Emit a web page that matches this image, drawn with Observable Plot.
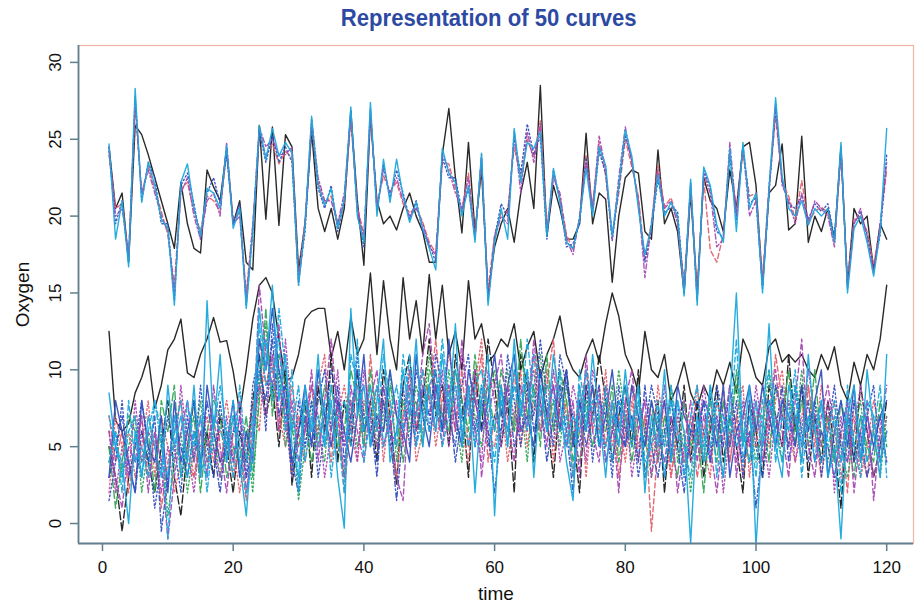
<!DOCTYPE html>
<html>
<head>
<meta charset="utf-8">
<script src="https://cdn.jsdelivr.net/npm/d3@7"></script>
<script src="https://cdn.jsdelivr.net/npm/@observablehq/plot@0.6"></script>
<style>
  html, body { margin: 0; padding: 0; background: #fff; }
  #title { width: 923px; height: 36px; box-sizing: border-box; padding-left: 54px; padding-top: 3px;
    text-align: center; overflow: visible; }
  #title span { display: inline-block; transform: scaleX(0.92); color: #2d49a3;
    font: bold 24px/30px "Liberation Sans", Arial, sans-serif; }
  #chart svg { display: block; font-family: "Liberation Sans", Arial, sans-serif; }
</style>
</head>
<body>
<div id="title"><span>Representation of 50 curves</span></div>
<div id="chart"></div>
<script>
// ---- data ----
const time = d3.range(1, 121);
const xTicks = [0, 20, 40, 60, 80, 100, 120];
const yTicks = [0, 5, 10, 15, 20, 25, 30];

// upper group of curves
const upCyan = [24.7,18.5,21,16.7,28.3,20.9,23.5,22,19.8,19.2, 14.2,22.2,23.4,20.5,18.7,21.8,21.5,20.5,24.6,19.2, 20.5,14,19,25.9,23.7,25.7,23.9,24.8,24.1,15.5, 19.4,26.5,22,20.7,21.8,19.2,21.1,27.1,20,18.3, 27.4,20,23.7,20.9,23.7,21.3,19.6,20.9,19.2,17.9, 16.5,24.4,22.8,22.2,20,22,18.3,24.1,14.2,18.3, 20.5,18.5,25.7,22.2,24.8,24.4,25.5,18.7,23.1,20.9, 18.3,17.9,19.8,23.1,20,24.5,23.3,18.7,22,25.6, 23.9,20.5,17.5,19.4,22.7,20,20.9,20,14.8,22.4, 14.2,23.2,22,19.4,18.3,24.4,19,24.8,20.5,21.5, 15,21.8,27.7,22.6,20.5,20,21,19.4,20.5,20, 20.5,18.3,24.8,15,19.2,20,18.3,16.1,19,25.7];
const upBlack = [24.5,20.5,21.5,17,25.9,25.3,24,22.5,21,19.5, 17.9,22.2,19.5,17.9,17.6,23,21.9,21,24.4,19.5, 21,17,16.5,25.9,19.8,25.8,19.4,25.3,24.5,16.5, 19.5,25.5,20.5,19,20.5,18.5,20.5,26.8,21,16.8, 26.5,21,19.5,20,19.1,20.5,21.5,20,19,17, 17,24,27,22.5,18.9,24.8,19,23,15,18, 19.5,20.5,18.3,21.5,23.5,20.5,28.5,18.7,22,20.5, 18.5,18.5,19.5,25.4,19.5,21.5,21.1,15.7,20,22.5, 23,22.8,19,18.5,24.3,19.5,20.5,19,15,21.5, 15,22.5,21,20.5,19,23,20.5,24.5,24.8,22, 15.5,21.5,22,24.7,19.1,19.5,25.2,18.3,20,19, 20.5,18.5,24.5,15.5,20.5,19.5,20,16.5,19.5,18.5];
const upMagenta = [24.5,20,20.5,17.5,27.5,21.5,23,21.5,20,19, 15,21.5,22.5,20,18.5,21,21.5,20,24.8,19.5, 20,14.5,19.5,25.8,24.5,25,24,24,24.5,15.5, 19.5,26.3,22.5,21,21,19.5,21.5,26.5,20.5,18.5, 26.8,20.5,23,21.5,22.5,21,20,20.5,19.5,18, 17.5,24,23,21.5,20.5,22.5,18.5,24,14.5,18.5, 20,19.5,25.5,21.5,25.5,23.5,26,19,22.5,21.5, 18.5,17.5,20,23.5,20.5,25.2,23,18.5,22.5,25.8, 23.5,21,16,19.5,23,20.5,21,19.5,15,22, 14.5,22.8,21.5,18,18.5,24.8,20,24.5,20,21, 15.5,22,27.3,22,21,19.5,21.5,19.5,21,20.5, 20,18,24.5,15.3,19.5,20.5,18.5,16.3,19.5,23.5];
const upBlue = [24.2,19.5,21,17,27.8,21,23.5,22.5,19.5,19.5, 14.5,22,22.8,20.8,18.5,21.5,22.5,20.8,24,19.5, 20.8,14.2,19,25.5,23.5,25.2,23.5,24.5,23.5,15.8, 19,26,21.8,20.5,22,19,21,26.9,20.2,18, 27,20.3,23.3,21.2,23,21.5,19.8,21,19,18.2, 17,23.8,22.5,22.5,20.3,21.8,18.6,23.8,14.5,18.6, 20.8,20,25,22.8,26,24,25.2,18.5,23,21, 18,18.2,19.5,23.8,20.3,24.2,22.8,18.4,21.8,25.3, 23.6,20.8,17,19.2,22.4,20.2,20.6,20.3,15.2,22.2, 14.6,23,21.8,19,18.6,24,19.8,24.6,20.8,21.2, 15.3,21.5,27,22.3,20.8,20.5,21.3,19.8,20.8,20.3, 20.8,18.6,24.3,15.5,19.5,20.3,18.8,16.5,18.8,24];
const upRed = [24,20.5,20.8,17.3,27,21.5,23.2,21.8,20.3,18.8, 15.5,21.8,22.2,20.3,19,21.3,21,20.3,24.3,19.8, 20.2,15,19.3,25.3,24,24.7,23.4,24.2,23.8,16, 19.8,25.8,22.2,20.8,21.3,19.6,20.8,26.3,20.6,18.8, 26.4,20.8,22.6,21.6,22.2,20.8,20.2,20.6,19.6,18.3, 17.6,23.5,23.4,21.8,20.4,22.8,18.8,23.5,15.2,18.8, 20.2,20.3,24.5,22.5,25,23.8,26.2,19.3,22.6,21.3, 18.8,17.8,19.8,24,20.6,24.8,22.6,18.8,21.5,25, 23.2,21.3,17.2,19.6,23.3,20.6,21.2,19.8,15.6,21.8, 15.3,22.4,17.8,17,18.8,24.2,20.3,24.2,21.3,21.5, 16,21.8,26.5,22.2,21.3,19.8,22.3,19.6,20.3,20.6, 20.2,18.2,24,15.8,19.8,20,19,16.8,19.3,23];

// lower group of curves
const low1 = [12.5,6.7,6,6.5,8.5,9.5,10.9,7.5,9,11.3, 12,13.3,9.8,9.5,11,12,13.4,11.8,11.9,9.9, 7.2,10,13.3,15.5,16,15,12,9.3,9.5,11, 13.3,13.8,14,14,10.8,12.5,10,13.4,11,12, 16.3,11,15.8,12,10,16,12,14.5,11,16.2, 12,15.5,11,12.5,10,15.8,12,13,10.5,11, 12,11.5,13,10,11.5,12.5,9.5,11,12,13.5, 11,10,9.5,11,12,10.5,13,15,13.5,11, 10,8.5,12.5,10,9.5,11,8,9,10.5,8.5, 7.5,9,8,10,9,10.5,8.5,12,11,9.5, 9,11.5,12,10.5,11,10.5,11,10,9.5,11, 10,11.5,9,8,10.5,9,11,10,12,15.5];
const low2 = [5,3,-0.5,3,5,6,4,2,5,8, 3,0.5,5,8,4,6,3,7,5,2, 6,4,8,11,7,9,5,10,2.5,6, 8,3,9,6,11,4,8,5,10,6, 8,4,10,7,2.5,9,11,6,8,12, 7,9,5,11,8,3,10,6,12,9, 5,8,2,11,9,4,10,7,3,8, 10,6,2,9,7,11,8,4,7,9, 5,10,3,6,8,2,7,5,9,4, 8,3,6,9,4,7,5,2,8,6, 3,9,7,5,11,6,9,3,7,4, 8,5,1,7,4,9,6,3,5,8];
const low3 = [7,4,6,2,5,7,3,6,1,4, 6,8,4,3,6,5,7,4,6,3, 5,1.5,7,12,9,11,6,8,3,7, 6,9,5,7,4,8,2,7,9,5, 11,6,8,5,3,7,9,6,10,8, 12,7,9,6,10,5,8,11,4,7, 9,6,10,5,8,11,7,9,12,6, 8,3,7,10,6,9,5,8,3,6, 9,4,7,-0.5,5,8,3,6,4,7, 3,6,8,5,9,4,7,3,6,5, 9,6,11,8,5,7,4,9,6,3, 7,4,6,2,8,5,3,7,4,6];
const low4 = [4,6,3,5,7,2,5,4,6,0.5, 4,6,2,5,8,4,6,3,5,7, 3,6,2,9,13,8,10,5,7,1.5, 5,8,6,4,9,6,3,8,5,7, 9,5,7,10,4,8,6,9,7,11, 8,6,10,7,4,9,7,5,8,10, 7,10,6,8,4,9,11,6,8,5, 9,6,4,7,9,5,8,6,10,7, 5,8,6,3,7,5,9,4,6,2, 6,4,8,6,3,7,9,5,7,4, 6,10,7,4,8,6,10,5,8,6, 4,7,5,3,6,8,4,6,3,7];
const low5 = [3,5,7,4,2,6,4,7,-0.5,3, 7,5,3,6,4,8,5,2,6,4, 7,3,5,10,8,12,7,9,4,2, 7,5,8,10,6,9,4,7,10,6, 7,3,9,6,1.5,6,8,5,9,7, 10,6,8,4,7,9,5,8,6,2, 6,9,5,7,10,6,8,4,7,9, 6,2,8,5,7,9,4,6,8,5, 7,4,9,5,3,6,8,5,2,6, 5,8,4,7,5,9,6,4,6,1, 5,8,6,9,4,7,5,8,4,6, 5,3,6,8,4,6,3,5,7,4];
const low6 = [8.5,5,4,0,6,3,7,5,3,9, 5,7,4,9,3,14.5,6,11,4,7, 4,0.5,6,14,10,15.5,8,11,5,3, 9,6,11,5,8,3,-0.3,14,7,9, 5,8,12,4,6,10,7,12,5,9, 6,11,7,13,5,9,2,8,11,0.5, 9,5,12,7,10,3,9,6,11,8, 4,1.5,9,6,11,7,3,8,5,10, 6,9,2,7,5,10,4,8,6,-1.3, 7,4,9,6,3,8,15,5,9,-1.5, 6,13,5,3,9,7,4,11,6,8, 3,5,-1,7,9,4,10,6,3,11];
const low7 = [6,3,1,5,4,7,2,6,4,-1, 3,6,8,4,7,3,9,5,2,6, 8,2,5,15.5,11,9,13,6,8,4, 6,10,4,8,12,7,3,9,6,4, 8,10,5,7,3,1.5,9,7,11,13, 8,5,9,6,12,7,10,3,7,9, 11,7,4,9,6,12,8,5,10,7, 5,8,3,11,6,4,9,7,2,8, 10,6,8,3,6,4,7,2,5,8, 4,7,5,2,6,9,3,7,5,8, 4,7,10,6,3,8,12,5,3,7, 9,6,4,8,2,6,8,1.5,6,9];
const low8 = [2,7,5,6,3,5,8,3,7,5, 2,4,6,3,5,7,4,6,8,5, 2,5,8,6,12,10,7,5,9,6, 4,7,9,11,5,7,9,6,4,8, 6,9,4,8,5,7,10,4,6,9, 5,8,11,9,6,4,9,12,6,5, 8,4,7,10,5,8,6,10,4,9, 7,5,9,3,8,6,10,5,7,4, 8,5,7,4,9,6,3,7,4,5, 9,5,3,8,6,4,7,9,3,7, 8,5,8,10,6,4,7,9,5,9, 6,8,3,5,7,3,5,8,6,4];
const low9 = [5,1,4,7,6,4,6,2,8,6, 9,3,5,7,2,6,8,7,3,5, 4,7,3,8,14,7,11,9,6,5, 7,4,6,9,7,5,6,10,8,5, 10,7,6,9,7,4,7,8,5,10, 9,7,6,10,8,6,11,7,9,6, 10,8,6,12,7,9,5,11,6,10, 8,4,6,8,5,7,6,9,4,7, 4,7,5,8,4,7,5,3,8,5, 6,2,7,4,8,5,10,6,4,7, 7,4,9,7,10,5,8,6,10,5, 7,4,8,6,3,7,5,4,8,5];
const low10 = [1.5,4,8,3,5,8,5,1,4,7, 5,2,7,4,9,5,3,8,4,6, 6,3,9,11,6,13,9,7,3,8, 5,8,3,6,10,8,5,6,11,7, 6,4,8,5,6,9,5,10,8,6, 11,9,7,5,9,11,6,9,5,7, 6,11,8,5,9,7,12,8,5,11, 9,7,5,9,4,8,7,3,9,6, 7,3,6,9,7,3,6,8,3,6, 8,6,4,9,7,5,8,3,8,5, 3,6,9,7,5,9,6,4,8,3, 6,9,5,4,8,5,7,9,4,6];
const low11 = [4,6,2,8,4,5,3,8,6,-1, 6,8,3,6,4,3,7,6,5,8, 5,2,4,13,9,10,12,6,10,2, 8,6,7,5,9,6,2,11,9,6, 9,6,11,8,5,11,8,7,10,6, 7,12,8,10,7,5,9,10,7,4, 8,6,9,7,12,8,7,9,8,6, 7,3,10,7,8,6,5,7,6,9, 6,9,4,5,8,3,8,6,5,3, 7,5,9,3,7,6,12,4,7,3, 8,10,4,7,6,9,3,7,4,8, 5,7,2,9,5,7,4,6,9,3];
const low12 = [6,2,5,3,8,4,6,5,2,5, 4,9,5,2,6,4,5,3,7,4, 7,5,6,9,7,11,6,12,7,5, 6,9,7,3,6,10,5,8,4,10, 7,5,9,6,8,5,10,6,9,8, 6,10,5,8,11,8,6,4,10,8, 5,9,7,6,8,10,6,7,9,4, 6,9,7,4,10,8,4,6,5,8, 3,6,8,7,4,9,5,7,8,4, 5,9,6,7,2,6,4,8,5,9, 6,3,7,5,8,4,6,10,7,5, 8,2,7,4,6,9,6,3,5,7];
const low13 = [3,8,6,4,2,8,5,4,7,2, 8,4,6,8,3,9,6,4,5,8, 3,6,4,12,10,14,10,8,4,6, 9,5,10,7,5,8,6,4,7,11, 5,7,6,10,7,6,4,11,7,5, 9,6,12,7,5,10,8,6,8,11, 7,9,11,6,7,5,10,7,9,6, 10,5,8,6,9,5,7,10,6,5, 9,7,5,8,6,8,4,9,7,6, 6,8,7,5,9,3,6,7,9,6, 9,7,5,8,7,5,9,6,8,10, 3,6,8,5,9,4,7,5,7,8];
const low14 = [7,5,3,6,7,3,6,8,5,3, 7,3,8,5,7,2,6,9,6,3, 9,4,7,10,12,8,14,10,6,9, 4,7,5,8,3,7,8,5,12,4, 7,9,5,7,9,6,11,5,7,9, 10,5,7,9,6,8,5,9,8,6, 9,5,10,8,6,11,9,6,7,10, 5,7,6,10,7,5,9,4,8,7, 5,8,3,6,7,5,9,6,3,7, 9,4,5,8,6,7,5,6,4,8, 5,8,6,4,7,10,5,7,6,4, 6,8,4,7,5,3,8,7,4,6];

// ---- styles (kept apart from the data) ----
const colBlack = "#1e1e1e", colRed = "#e0606c", colGreen = "#35a55a",
      colBlue = "#3550c0", colCyan = "#1ba8dc", colMagenta = "#a84ab4";
const dash = {solid: null, dashed: "5,3", dotted: "1.5,2.5", dotdash: "1.5,2.5,5,2.5", longdash: "8,3"};

const series = [
  [low1, colBlack, "solid"],
  [low2, colBlack, "longdash"],
  [upBlack, colBlack, "solid"],
  [low3, colRed, "dashed"],
  [low8, colRed, "dotted"],
  [upRed, colRed, "dashed"],
  [low4, colGreen, "dotted"],
  [low9, colGreen, "longdash"],
  [low5, colBlue, "dotdash"],
  [low10, colBlue, "dotted"],
  [low13, colBlue, "solid"],
  [upBlue, colBlue, "dotted"],
  [low7, colMagenta, "dashed"],
  [low12, colMagenta, "dotted"],
  [upMagenta, colMagenta, "dotdash"],
  [low11, colCyan, "dashed"],
  [low14, colCyan, "dotdash"],
  [low6, colCyan, "solid"],
  [upCyan, colCyan, "solid"]
];

const xDomain = [-3.67, 124.1];
const yDomain = [-1.3, 31.1];
const axisGrey = "#5f7f8e";

const lineMarks = series.map(([vals, color, lt]) =>
  Plot.line(vals.map((v, i) => ({t: time[i], v})), {
    x: "t", y: "v", stroke: color, strokeWidth: 1.4,
    strokeDasharray: dash[lt], strokeOpacity: 0.95, clip: true
  })
);

const chart = Plot.plot({
  width: 923,
  height: 567,
  marginTop: 9,
  marginBottom: 60,
  marginLeft: 78,
  marginRight: 10,
  x: {domain: xDomain, axis: null},
  y: {domain: yDomain, axis: null},
  marks: [
    ...lineMarks,
    Plot.frame({stroke: "#f0b4a4", strokeWidth: 1.2}),
    Plot.ruleX([xDomain[0]], {stroke: axisGrey, strokeWidth: 1.8}),
    Plot.ruleY([yDomain[0]], {stroke: axisGrey, strokeWidth: 1.8}),
    Plot.axisX(xTicks, {tickSize: 8, stroke: axisGrey, strokeWidth: 1.5, tickFormat: () => "", label: null}),
    Plot.axisY(yTicks, {tickSize: 8, stroke: axisGrey, strokeWidth: 1.5, tickFormat: () => "", label: null}),
    Plot.text(xTicks, {x: d => d, text: d => String(d), frameAnchor: "bottom", textAnchor: "middle", lineAnchor: "middle", dy: 24, fontSize: 17, fill: "#111"}),
    Plot.text(yTicks, {y: d => d, text: d => String(d), frameAnchor: "left", textAnchor: "middle", lineAnchor: "middle", dx: -23, rotate: -90, fontSize: 17, fill: "#111"}),
    Plot.text(["time"], {frameAnchor: "bottom", textAnchor: "middle", lineAnchor: "middle", dy: 50, fontSize: 19, fill: "#111"}),
    Plot.text(["Oxygen"], {frameAnchor: "left", textAnchor: "middle", lineAnchor: "middle", dx: -56, rotate: -90, fontSize: 19, fill: "#111"})
  ]
});
document.getElementById("chart").appendChild(chart);
</script>
</body>
</html>
